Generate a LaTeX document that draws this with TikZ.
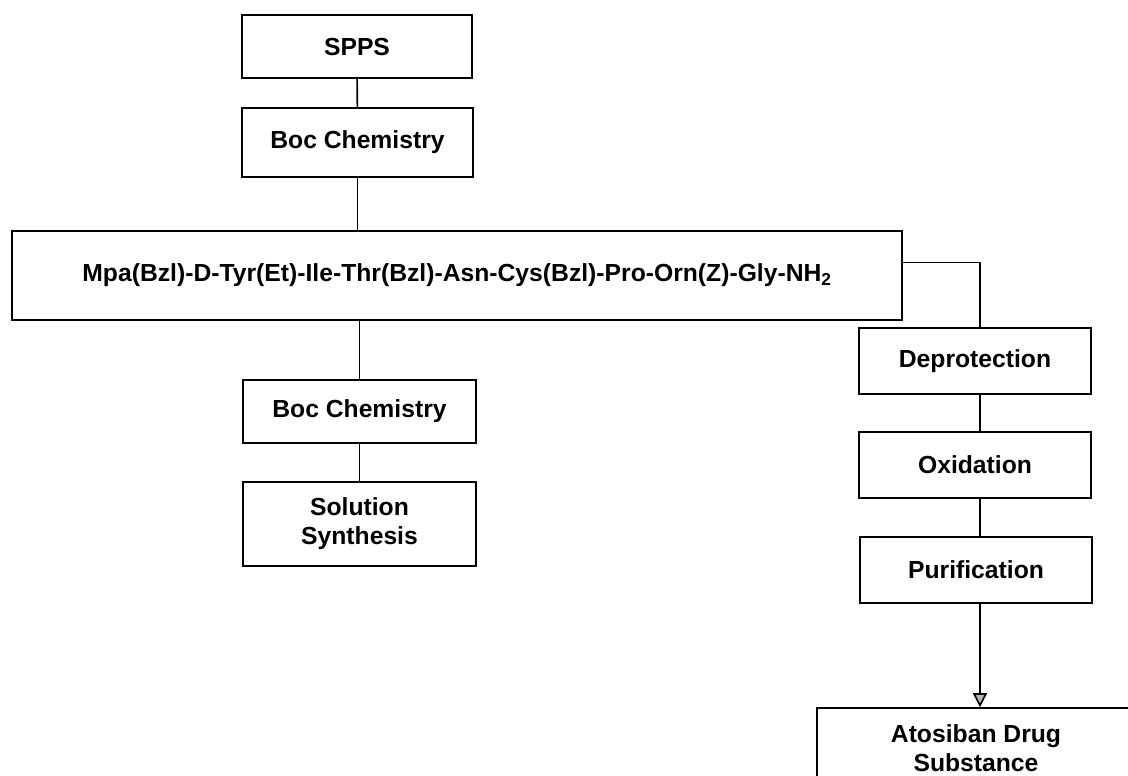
\documentclass[tikz,border=0pt]{standalone}
\usepackage{fontspec}
\setmainfont{Liberation Sans}
\usetikzlibrary{arrows.meta}
\begin{document}
\begin{tikzpicture}[x=1pt, y=-1pt, line width=1.6pt,
    pbox/.style={draw, inner sep=0pt, align=center,
        font=\fontsize{24.7}{29}\selectfont\bfseries},
    >={Triangle[width=14pt, length=14pt, fill=gray!60]}]
\clip (0,0) rectangle (1128,776);
% left column
\node[pbox, minimum width=230, minimum height=63] (spps) at (357,46.5) {SPPS};
\node[pbox, minimum width=231, minimum height=69] (boc1) at (357.5,142.5) {Boc Chemistry};
\node[pbox, minimum width=890, minimum height=89] (long) at (457,275.5)
    {Mpa(Bzl)-D-Tyr(Et)-Ile-Thr(Bzl)-Asn-Cys(Bzl)-Pro-Orn(Z)-Gly-NH\textsubscript{2}};
\node[pbox, minimum width=233, minimum height=63] (boc2) at (359.5,411.5) {Boc Chemistry};
\node[pbox, minimum width=233, minimum height=84] (sol) at (359.5,524) {Solution\\Synthesis};
% right column
\node[pbox, minimum width=232, minimum height=66] (deprot) at (975,361) {Deprotection};
\node[pbox, minimum width=232, minimum height=66] (oxid) at (975,465) {Oxidation};
\node[pbox, minimum width=232, minimum height=66] (purif) at (976,570) {Purification};
\node[pbox, minimum width=318, minimum height=80] (atos) at (976,748) {Atosiban Drug\\Substance};
% connectors
\draw (spps) -- (boc1);
\draw (boc1.south) -- (boc1.south |- long.north);
\draw (boc2.north |- long.south) -- (boc2.north);
\draw (boc2) -- (sol);
\draw ([yshift=13pt]long.east) -| ([xshift=5pt]deprot.north);
\draw ([xshift=5pt]deprot.south) -- ([xshift=5pt]oxid.north);
\draw ([xshift=5pt]oxid.south) -- ([xshift=4pt]purif.north);
\draw[->] ([xshift=4pt]purif.south) -- ([xshift=4pt]atos.north);
\end{tikzpicture}
\end{document}
